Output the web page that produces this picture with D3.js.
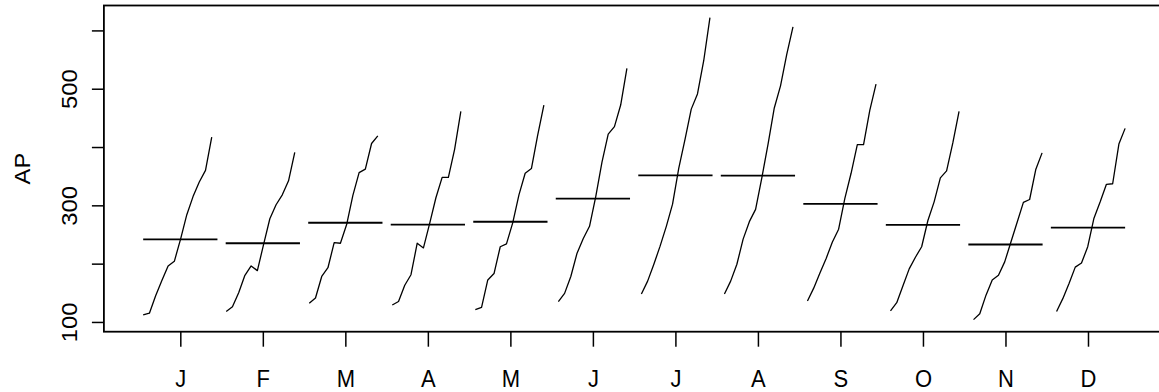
<!DOCTYPE html>
<html>
<head>
<meta charset="utf-8">
<script src="https://cdn.jsdelivr.net/npm/d3@7"></script>
<style>
  html, body { margin: 0; padding: 0; background: #fff; overflow: hidden; }
  svg { display: block; }
  text { font-family: "Liberation Sans", Arial, Helvetica, sans-serif; fill: #000; }
</style>
</head>
<body>
<svg id="chart" width="1159" height="392"></svg>
<script>
// AirPassengers (monthly totals, thousands), one array per calendar month, years 1949..1960
const years = [1949, 1950, 1951, 1952, 1953, 1954, 1955, 1956, 1957, 1958, 1959, 1960];
const monthLabels = ["J", "F", "M", "A", "M", "J", "J", "A", "S", "O", "N", "D"];
const jan = [112, 115, 145, 171, 196, 204, 242, 284, 315, 340, 360, 417];
const feb = [118, 126, 150, 180, 196, 188, 233, 277, 301, 318, 342, 391];
const mar = [132, 141, 178, 193, 236, 235, 267, 317, 356, 362, 406, 419];
const apr = [129, 135, 163, 181, 235, 227, 269, 313, 348, 348, 396, 461];
const may = [121, 125, 172, 183, 229, 234, 270, 318, 355, 363, 420, 472];
const jun = [135, 149, 178, 218, 243, 264, 315, 374, 422, 435, 472, 535];
const jul = [148, 170, 199, 230, 264, 302, 364, 413, 465, 491, 548, 622];
const aug = [148, 170, 199, 242, 272, 293, 347, 405, 467, 505, 559, 606];
const sep = [136, 158, 184, 209, 237, 259, 312, 355, 404, 404, 463, 508];
const oct = [119, 133, 162, 191, 211, 229, 274, 306, 347, 359, 407, 461];
const nov = [104, 114, 146, 172, 180, 203, 237, 271, 305, 310, 362, 390];
const dec = [118, 140, 166, 194, 201, 229, 278, 306, 336, 337, 405, 432];
const monthSeries = [jan, feb, mar, apr, may, jun, jul, aug, sep, oct, nov, dec];
const yTicks = [100, 200, 300, 400, 500, 600];
const yTickLabels = ["100", "", "300", "", "500", ""];
const yLabel = "AP";

const svg = d3.select("#chart");
const FONT = '"Liberation Sans", Arial, sans-serif';
const FS = 22;          // horizontal glyph size
const VSTRETCH = 1.08;  // the reference's text is slightly taller than wide

// R-style limits: xlim c(0.55, 12.45), ylim = data range, each extended by 4%
const xlim = [0.55, monthSeries.length + 0.45];
const xext = (xlim[1] - xlim[0]) * 0.04;
const allVals = monthSeries.flat();
const ylimRaw = d3.extent(allVals);
const yext = (ylimRaw[1] - ylimRaw[0]) * 0.04;

const plotLeft = 103.9, plotRight = 1164.4, plotTop = 5.5, plotBottom = 331.7;
const x = d3.scaleLinear().domain([xlim[0] - xext, xlim[1] + xext]).range([plotLeft, plotRight]);
const y = d3.scaleLinear().domain([ylimRaw[0] - yext, ylimRaw[1] + yext]).range([plotBottom, plotTop]);

const nYears = years.length;
const tSpan = (nYears - 1) + 11 / 12;

const line = d3.line().x(d => x(d.x)).y(d => y(d.v));

monthSeries.forEach((vals, mi) => {
  const m = mi + 1;
  const pts = vals.map((v, k) => {
    const t = (years[k] - years[0]) + mi / 12;
    return { x: m - 0.45 + 0.9 * t / tSpan, v: v };
  });
  svg.append("path")
    .attr("d", line(pts))
    .attr("fill", "none")
    .attr("stroke", "#000")
    .attr("stroke-width", 1.3)
    .attr("stroke-linejoin", "round");
  const base = d3.mean(vals);
  svg.append("line")
    .attr("x1", x(m - 0.45)).attr("x2", x(m + 0.45))
    .attr("y1", y(base)).attr("y2", y(base))
    .attr("stroke", "#000")
    .attr("stroke-width", 1.8);
});

// box
svg.append("rect")
  .attr("x", plotLeft).attr("y", plotTop)
  .attr("width", plotRight - plotLeft).attr("height", plotBottom - plotTop)
  .attr("fill", "none").attr("stroke", "#000").attr("stroke-width", 1.8);

// x axis
const xAxis = d3.axisBottom(x)
  .tickValues(d3.range(1, monthLabels.length + 1))
  .tickFormat(d => monthLabels[d - 1])
  .tickSize(15)
  .tickPadding(0);
const gx = svg.append("g").attr("transform", `translate(0,${plotBottom})`).call(xAxis);
gx.select(".domain").remove();
gx.selectAll(".tick line").attr("stroke", "#000").attr("stroke-width", 1.5);
gx.selectAll(".tick text")
  .attr("y", 0).attr("dy", null)
  .attr("transform", `translate(0,${387 - plotBottom}) scale(1,${VSTRETCH})`)
  .style("font-size", FS + "px")
  .style("font-family", FONT);

// y axis
const yAxis = d3.axisLeft(y)
  .tickValues(yTicks)
  .tickFormat((d, i) => yTickLabels[i])
  .tickSize(12)
  .tickPadding(0);
const gy = svg.append("g").attr("transform", `translate(${plotLeft},0)`).call(yAxis);
gy.select(".domain").remove();
gy.selectAll(".tick line").attr("stroke", "#000").attr("stroke-width", 1.5);
gy.selectAll(".tick text")
  .attr("x", null).attr("dy", null)
  .attr("text-anchor", "middle")
  .attr("transform", `translate(${76.5 - plotLeft},0) rotate(-90) scale(${VSTRETCH},1)`)
  .style("font-size", FS + "px")
  .style("font-family", FONT);

// y label
svg.append("text")
  .attr("transform", `translate(30,${(plotTop + plotBottom) / 2}) rotate(-90) scale(${VSTRETCH},1)`)
  .attr("text-anchor", "middle")
  .style("font-size", FS + "px")
  .style("font-family", FONT)
  .text(yLabel);
</script>
</body>
</html>
